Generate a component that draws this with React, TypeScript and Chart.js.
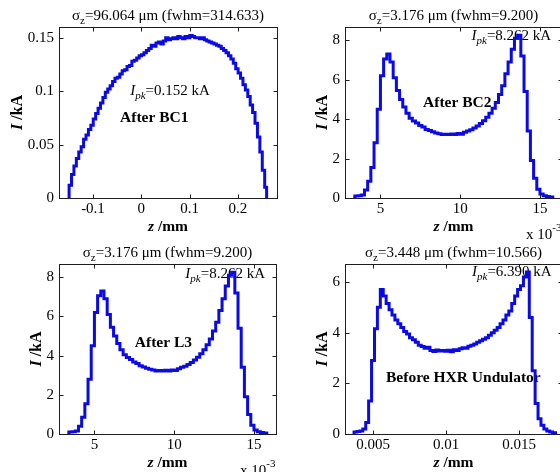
import React, { useEffect, useRef } from "react";
import { Chart, registerables } from "chart.js";

Chart.register(...registerables);

// ---------------- data ----------------
// After BC1 (z in mm, I in kA)
const zBC1 = [-0.152, -0.147, -0.142, -0.137, -0.132, -0.127, -0.122, -0.117, -0.112, -0.107, -0.102, -0.097, -0.092, -0.087, -0.082, -0.077, -0.072, -0.067, -0.062, -0.057, -0.052, -0.047, -0.042, -0.037, -0.032, -0.027, -0.022, -0.017, -0.012, -0.007, -0.002, 0.003, 0.008, 0.013, 0.018, 0.023, 0.028, 0.033, 0.038, 0.043, 0.048, 0.053, 0.058, 0.063, 0.068, 0.073, 0.078, 0.083, 0.088, 0.093, 0.098, 0.103, 0.108, 0.113, 0.118, 0.123, 0.128, 0.133, 0.138, 0.143, 0.148, 0.153, 0.158, 0.163, 0.168, 0.173, 0.178, 0.183, 0.188, 0.193, 0.198, 0.203, 0.208, 0.213, 0.218, 0.223, 0.228, 0.233, 0.238, 0.243, 0.248, 0.253, 0.258, 0.261];
const iBC1 = [0.0, 0.012, 0.022, 0.03, 0.037, 0.043, 0.048, 0.055, 0.059, 0.064, 0.068, 0.074, 0.079, 0.084, 0.089, 0.094, 0.099, 0.102, 0.105, 0.109, 0.112, 0.113, 0.116, 0.119, 0.12, 0.123, 0.124, 0.128, 0.129, 0.131, 0.133, 0.134, 0.136, 0.138, 0.14, 0.143, 0.142, 0.145, 0.146, 0.144, 0.147, 0.15, 0.148, 0.149, 0.15, 0.149, 0.151, 0.15, 0.149, 0.151, 0.15, 0.152, 0.151, 0.15, 0.15, 0.149, 0.15, 0.148, 0.147, 0.146, 0.145, 0.144, 0.143, 0.142, 0.14, 0.138, 0.136, 0.133, 0.13, 0.126, 0.121, 0.117, 0.112, 0.106, 0.101, 0.095, 0.087, 0.08, 0.07, 0.057, 0.043, 0.026, 0.01, 0.0];

// After BC2 / After L3 (z in 10^-3 mm, I in kA)
const zBC2 = [3.3, 3.5, 3.7, 3.9, 4.1, 4.3, 4.5, 4.7, 4.9, 5.1, 5.3, 5.5, 5.7, 5.9, 6.1, 6.3, 6.5, 6.7, 6.9, 7.1, 7.3, 7.5, 7.7, 7.9, 8.1, 8.3, 8.5, 8.7, 8.9, 9.1, 9.3, 9.5, 9.7, 9.9, 10.1, 10.3, 10.5, 10.7, 10.9, 11.1, 11.3, 11.5, 11.7, 11.9, 12.1, 12.3, 12.5, 12.7, 12.9, 13.1, 13.3, 13.5, 13.7, 13.9, 14.1, 14.3, 14.5, 14.7, 14.9, 15.1, 15.3, 15.5, 15.7, 15.9];
const iBC2 = [0.05, 0.1, 0.12, 0.15, 0.4, 0.85, 1.55, 2.8, 4.5, 6.2, 7.05, 7.3, 6.9, 6.1, 5.45, 5.0, 4.62, 4.3, 4.05, 3.9, 3.8, 3.68, 3.6, 3.48, 3.42, 3.36, 3.3, 3.26, 3.22, 3.24, 3.22, 3.25, 3.22, 3.27, 3.24, 3.33, 3.4, 3.46, 3.55, 3.65, 3.78, 3.92, 4.1, 4.3, 4.55, 4.85, 5.25, 5.7, 6.3, 6.9, 7.55, 8.1, 8.26, 7.2, 5.4, 3.4, 1.9, 1.0, 0.45, 0.2, 0.12, 0.08, 0.05, 0.0];
const zL3 = zBC2;
const iL3 = iBC2;

// Before HXR Undulator (z in mm, I in kA)
const zHXR = [0.0036, 0.0038, 0.004, 0.0042, 0.0044, 0.0046, 0.0048, 0.005, 0.0052, 0.0054, 0.0056, 0.0058, 0.006, 0.0062, 0.0064, 0.0066, 0.0068, 0.007, 0.0072, 0.0074, 0.0076, 0.0078, 0.008, 0.0082, 0.0084, 0.0086, 0.0088, 0.009, 0.0092, 0.0094, 0.0096, 0.0098, 0.01, 0.0102, 0.0104, 0.0106, 0.0108, 0.011, 0.0112, 0.0114, 0.0116, 0.0118, 0.012, 0.0122, 0.0124, 0.0126, 0.0128, 0.013, 0.0132, 0.0134, 0.0136, 0.0138, 0.014, 0.0142, 0.0144, 0.0146, 0.0148, 0.015, 0.0152, 0.0154, 0.0156, 0.0158, 0.016, 0.0162, 0.0164, 0.0166, 0.0168, 0.017, 0.0172, 0.0174, 0.0176];
const iHXR = [0.05, 0.08, 0.1, 0.12, 0.2, 0.45, 1.3, 2.9, 4.15, 5.0, 5.7, 5.45, 5.15, 4.9, 4.7, 4.5, 4.35, 4.2, 4.05, 3.95, 3.8, 3.72, 3.62, 3.5, 3.45, 3.38, 3.42, 3.3, 3.26, 3.32, 3.28, 3.3, 3.27, 3.31, 3.25, 3.33, 3.3, 3.36, 3.4, 3.38, 3.46, 3.5, 3.55, 3.62, 3.68, 3.74, 3.8, 3.9, 4.0, 4.1, 4.2, 4.35, 4.5, 4.7, 4.85, 5.15, 5.45, 5.7, 5.85, 6.2, 6.39, 4.6, 2.5, 1.2, 0.6, 0.35, 0.2, 0.12, 0.08, 0.05, 0.0];

// ticks
const xTicksBC1 = [-0.1, 0, 0.1, 0.2];
const xLabelsBC1 = ["-0.1", "0", "0.1", "0.2"];
const yTicksBC1 = [0, 0.05, 0.1, 0.15];
const yLabelsBC1 = ["0", "0.05", "0.1", "0.15"];
const xTicksBC2 = [5, 10, 15];
const xLabelsBC2 = ["5", "10", "15"];
const yTicksBC2 = [0, 2, 4, 6, 8];
const yLabelsBC2 = ["0", "2", "4", "6", "8"];
const xTicksHXR = [0.005, 0.01, 0.015];
const xLabelsHXR = ["0.005", "0.01", "0.015"];
const yTicksHXR = [0, 2, 4, 6];
const yLabelsHXR = ["0", "2", "4", "6"];

// ---------------- styling ----------------
const FONT = '"Liberation Serif", "Times New Roman", Times, serif';
const LINE_COLOR = "#0a0ae6";
const AXIS_COLOR = "#1e1e1e";
const CW = 290;
const CH = 250;

type Part = { t: string; style?: string; weight?: string; size?: number; dy?: number };

function drawRich(ctx: CanvasRenderingContext2D, parts: Part[], x: number, y: number, align: "left" | "center") {
  const fonts = parts.map(
    (p) => `${p.style || "normal"} ${p.weight || "normal"} ${p.size || 15}px ${FONT}`
  );
  const widths = parts.map((p, i) => {
    ctx.font = fonts[i];
    return ctx.measureText(p.t).width;
  });
  const total = widths.reduce((a, b) => a + b, 0);
  let cx = align === "center" ? x - total / 2 : x;
  ctx.textAlign = "left";
  ctx.textBaseline = "alphabetic";
  ctx.fillStyle = "#000";
  parts.forEach((p, i) => {
    ctx.font = fonts[i];
    ctx.fillText(p.t, cx, y + (p.dy || 0));
    cx += widths[i];
  });
}

interface Note { x: number; y: number; parts: Part[] }
interface PanelCfg {
  z: number[]; I: number[];
  xMin: number; xMax: number; yMin: number; yMax: number;
  xTicks: number[]; xLabels: string[]; yTicks: number[]; yLabels: string[];
  title: Part[];
  notes: Note[];
  exponent: boolean;
  yLabelOffset: number;
  area: { left: number; top: number; right: number; bottom: number };
  pos: { left: number; top: number };
}

const ipk = (v: string): Part[] => [
  { t: "I", style: "italic" },
  { t: "pk", style: "italic", size: 11, dy: 4 },
  { t: "=" + v + " kA" },
];
const sigma = (rest: string): Part[] => [
  { t: "σ" },
  { t: "z", size: 11, dy: 4 },
  { t: rest },
];
const bold = (t: string): Part[] => [{ t, weight: "bold", size: 15.5 }];

const panels: PanelCfg[] = [
  {
    z: zBC1, I: iBC1, xMin: -0.1704, xMax: 0.281, yMin: 0, yMax: 0.16,
    xTicks: xTicksBC1, xLabels: xLabelsBC1, yTicks: yTicksBC1, yLabels: yLabelsBC1,
    title: sigma("=96.064 μm (fwhm=314.633)"),
    notes: [
      { x: -0.023, y: 0.096, parts: ipk("0.152") },
      { x: -0.044, y: 0.071, parts: bold("After BC1") },
    ],
    exponent: false, yLabelOffset: 43,
    area: { left: 59, top: 27, right: 277, bottom: 198 },
    pos: { left: 0, top: 0 },
  },
  {
    z: zBC2, I: iBC2, xMin: 2.78, xMax: 16.38, yMin: 0, yMax: 8.675,
    xTicks: xTicksBC2, xLabels: xLabelsBC2, yTicks: yTicksBC2, yLabels: yLabelsBC2,
    title: sigma("=3.176 μm (fwhm=9.200)"),
    notes: [
      { x: 10.71, y: 8.0, parts: ipk("8.262") },
      { x: 7.67, y: 4.61, parts: bold("After BC2") },
    ],
    exponent: true, yLabelOffset: 23.5,
    area: { left: 65, top: 27, right: 282, bottom: 198 },
    pos: { left: 280, top: 0 },
  },
  {
    z: zL3, I: iL3, xMin: 2.78, xMax: 16.38, yMin: 0, yMax: 8.675,
    xTicks: xTicksBC2, xLabels: xLabelsBC2, yTicks: yTicksBC2, yLabels: yLabelsBC2,
    title: sigma("=3.176 μm (fwhm=9.200)"),
    notes: [
      { x: 10.7, y: 7.95, parts: ipk("8.262") },
      { x: 7.53, y: 4.46, parts: bold("After L3") },
    ],
    exponent: true, yLabelOffset: 23.5,
    area: { left: 59, top: 28, right: 276, bottom: 198 },
    pos: { left: 0, top: 236 },
  },
  {
    z: zHXR, I: iHXR, xMin: 0.003082, xMax: 0.01794, yMin: 0, yMax: 6.71,
    xTicks: xTicksHXR, xLabels: xLabelsHXR, yTicks: yTicksHXR, yLabels: yLabelsHXR,
    title: sigma("=3.448 μm (fwhm=10.566)"),
    notes: [
      { x: 0.01178, y: 6.22, parts: ipk("6.390") },
      { x: 0.00589, y: 2.06, parts: bold("Before HXR Undulator") },
    ],
    exponent: false, yLabelOffset: 23.5,
    area: { left: 65, top: 28, right: 282, bottom: 198 },
    pos: { left: 280, top: 236 },
  },
];

function Panel({ cfg }: { cfg: PanelCfg }) {
  const ref = useRef<HTMLCanvasElement | null>(null);
  useEffect(() => {
    const canvas = ref.current;
    if (!canvas) return;
    const { area } = cfg;
    const fitX = (s: any) => {
      s.height = CH - area.bottom;
      s.paddingLeft = 0; s.paddingRight = 0; s.paddingTop = 0; s.paddingBottom = 0;
    };
    const fitY = (s: any) => {
      s.width = area.left;
      s.paddingLeft = 0; s.paddingRight = 0; s.paddingTop = 0; s.paddingBottom = 0;
    };
    const decor = {
      id: "decor",
      beforeDatasetsDraw(chart: any) {
        const ctx = chart.ctx as CanvasRenderingContext2D;
        const xs = chart.scales.x, ys = chart.scales.y;
        ctx.save();
        cfg.notes.forEach((n) => {
          drawRich(ctx, n.parts, xs.getPixelForValue(n.x), ys.getPixelForValue(n.y), "left");
        });
        ctx.restore();
      },
      afterDraw(chart: any) {
        const ctx = chart.ctx as CanvasRenderingContext2D;
        const ca = chart.chartArea;
        const xs = chart.scales.x, ys = chart.scales.y;
        ctx.save();
        ctx.strokeStyle = AXIS_COLOR;
        ctx.lineWidth = 1;
        const L = Math.round(ca.left) + 0.5, R = Math.round(ca.right) + 0.5;
        const T = Math.round(ca.top) + 0.5, B = Math.round(ca.bottom) + 0.5;
        ctx.strokeRect(L, T, R - L, B - T);
        const tl = 4;
        ctx.beginPath();
        cfg.xTicks.forEach((v) => {
          const px = Math.round(xs.getPixelForValue(v)) + 0.5;
          ctx.moveTo(px, B); ctx.lineTo(px, B - tl);
          ctx.moveTo(px, T); ctx.lineTo(px, T + tl);
        });
        cfg.yTicks.forEach((v) => {
          const py = Math.round(ys.getPixelForValue(v)) + 0.5;
          ctx.moveTo(L, py); ctx.lineTo(L + tl, py);
          ctx.moveTo(R, py); ctx.lineTo(R - tl, py);
        });
        ctx.stroke();
        // title
        drawRich(ctx, cfg.title, (ca.left + ca.right) / 2, ca.top - 7.5, "center");
        // x label
        drawRich(ctx, [
          { t: "z", style: "italic", weight: "bold", size: 15.5 },
          { t: " /mm", weight: "bold", size: 15.5 },
        ], (ca.left + ca.right) / 2, ca.bottom + 33, "center");
        // y label
        ctx.save();
        ctx.translate(ca.left - cfg.yLabelOffset, (ca.top + ca.bottom) / 2);
        ctx.rotate(-Math.PI / 2);
        drawRich(ctx, [
          { t: "I", style: "italic", weight: "bold", size: 16 },
          { t: " /kA", weight: "bold", size: 16 },
        ], 0, 5.5, "center");
        ctx.restore();
        if (cfg.exponent) {
          drawRich(ctx, [{ t: "x 10" }, { t: "-3", size: 11, dy: -8 }], ca.right - 36, ca.bottom + 41, "left");
        }
        ctx.restore();
      },
    };
    const chart = new Chart(canvas, {
      type: "line",
      data: {
        datasets: [
          {
            data: cfg.z.map((x, i) => ({ x, y: cfg.I[i] })),
            borderColor: LINE_COLOR,
            borderWidth: 3,
            pointRadius: 0,
            stepped: "middle",
            fill: false,
          } as any,
        ],
      },
      options: {
        responsive: false,
        animation: false,
        events: [],
        layout: {
          padding: { left: 0, top: area.top, right: CW - area.right, bottom: 0 },
        },
        plugins: { legend: { display: false }, tooltip: { enabled: false }, title: { display: false } },
        scales: {
          x: {
            type: "linear",
            min: cfg.xMin,
            max: cfg.xMax,
            afterBuildTicks: (s: any) => { s.ticks = cfg.xTicks.map((v) => ({ value: v })); },
            afterFit: fitX,
            grid: { display: false, drawTicks: false },
            border: { display: false },
            ticks: {
              callback: (_v: any, i: number) => cfg.xLabels[i],
              font: { family: FONT, size: 15 },
              color: "#000",
              padding: 2,
              maxRotation: 0,
              autoSkip: false,
            },
          },
          y: {
            type: "linear",
            min: cfg.yMin,
            max: cfg.yMax,
            afterBuildTicks: (s: any) => { s.ticks = cfg.yTicks.map((v) => ({ value: v })); },
            afterFit: fitY,
            grid: { display: false, drawTicks: false },
            border: { display: false },
            ticks: {
              callback: (_v: any, i: number) => cfg.yLabels[i],
              font: { family: FONT, size: 15 },
              color: "#000",
              padding: 5,
              autoSkip: false,
            },
          },
        },
      } as any,
      plugins: [decor as any],
    });
    return () => chart.destroy();
  }, [cfg]);
  return (
    <canvas
      ref={ref}
      width={CW}
      height={CH}
      style={{ position: "absolute", left: cfg.pos.left, top: cfg.pos.top, width: CW, height: CH }}
    />
  );
}

export default function App() {
  return (
    <div
      style={{
        position: "fixed",
        left: 0,
        top: 0,
        width: 560,
        height: 472,
        overflow: "hidden",
        background: "#fff",
      }}
    >
      {panels.map((p, i) => (
        <Panel key={i} cfg={p} />
      ))}
    </div>
  );
}
